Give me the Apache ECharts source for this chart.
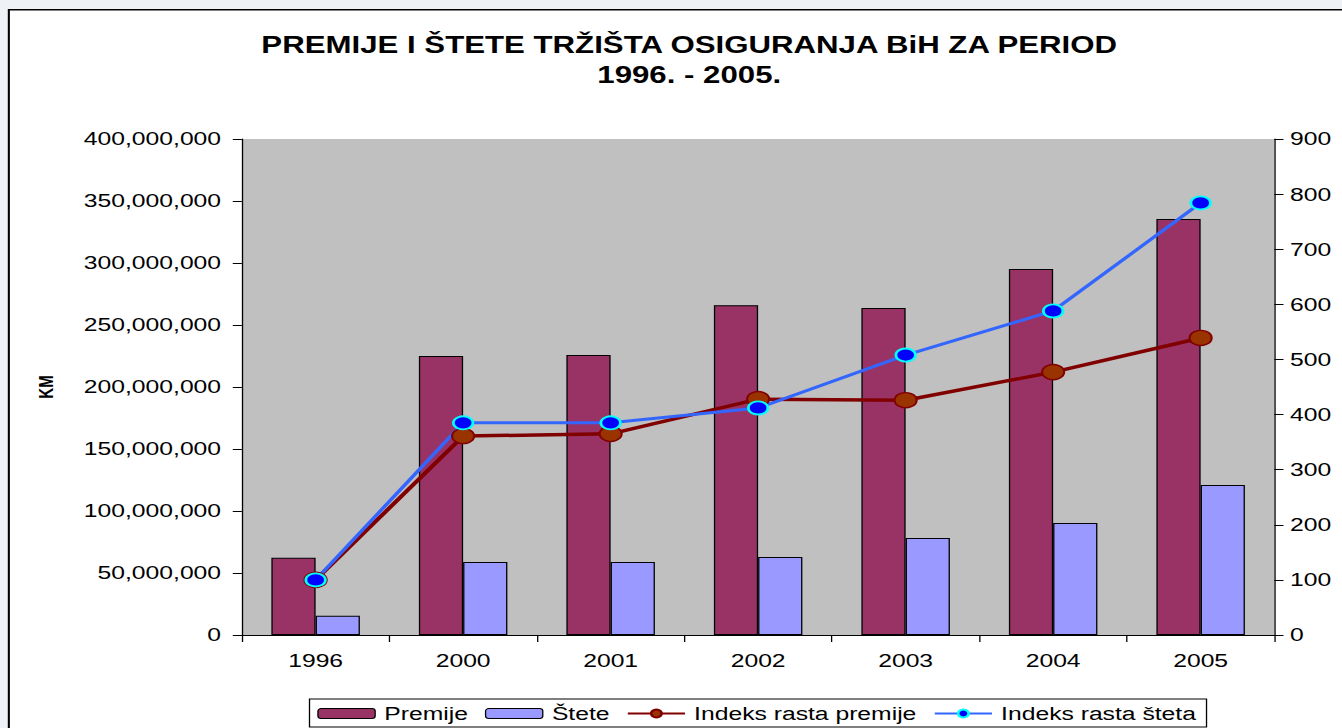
<!DOCTYPE html>
<html><head><meta charset="utf-8">
<script src="https://cdn.jsdelivr.net/npm/echarts@6/dist/echarts.min.js"></script>
<style>
html,body{margin:0;padding:0;background:#eef1f5;overflow:hidden;}
#c{width:1032px;height:728px;transform:scaleX(1.3004);transform-origin:0 0;}
</style>
</head><body><div id="c"></div>
<script>
const categories = ['1996','2000','2001','2002','2003','2004','2005'];
const premije = [62300000, 225000000, 225800000, 266000000, 263700000, 295200000, 335500000];
const stete = [15600000, 58900000, 58900000, 62900000, 78200000, 90300000, 121000000];
const indeksPremije = [100, 361, 365, 428, 426, 477, 539];
const indeksStete = [100, 385, 385, 412, 508, 588, 784];
const leftTicks = {min: 0, max: 400000000, interval: 50000000};
const rightTicks = {min: 0, max: 900, interval: 100};

const chart = echarts.init(document.getElementById('c'), null, {renderer: 'svg'});
const font = '"Liberation Sans", Arial, sans-serif';
chart.setOption({
  animation: false,
  backgroundColor: 'transparent',
  textStyle: {fontFamily: font},
  graphic: [{type: 'rect', left: 6, top: 9, shape: {width: 1040, height: 725}, style: {fill: '#fff', stroke: '#000', lineWidth: 1.6}, z: -10}],
  title: {
    text: 'PREMIJE I ŠTETE TRŽIŠTA OSIGURANJA BiH ZA PERIOD\n1996. - 2005.',
    left: 525, top: 25, textAlign: 'center',
    textStyle: {fontFamily: font, fontWeight: 'bold', fontSize: 24, color: '#000', lineHeight: 30}
  },
  legend: {
    bottom: 1, left: 238,
    itemGap: 13, itemWidth: 44, itemHeight: 10,
    padding: [5, 8, 4, 6],
    borderColor: '#000', borderWidth: 1, backgroundColor: '#fff',
    textStyle: {fontFamily: font, fontSize: 19, color: '#000', padding: [0, 0, 0, 2]},
    data: [
      {name: 'Premije', itemStyle: {borderColor: '#000', borderWidth: 1}},
      {name: 'Štete', itemStyle: {borderColor: '#000', borderWidth: 1}},
      {name: 'Indeks rasta premije'},
      {name: 'Indeks rasta šteta'}
    ]
  },
  grid: {left: 186, right: 52, top: 139, bottom: 93, show: true, backgroundColor: '#c0c0c0', borderWidth: 0},
  xAxis: {
    type: 'category', data: categories,
    axisLine: {lineStyle: {color: '#000', width: 1}},
    axisTick: {show: true, length: 7, lineStyle: {color: '#000'}},
    axisLabel: {fontFamily: font, fontSize: 19, color: '#000', margin: 16}
  },
  yAxis: [{
    type: 'value', min: leftTicks.min, max: leftTicks.max, interval: leftTicks.interval,
    name: 'KM', nameLocation: 'middle', nameGap: 143,
    nameTextStyle: {fontFamily: font, fontWeight: 'bold', fontSize: 15, color: '#000'},
    axisLine: {show: true, lineStyle: {color: '#000'}},
    axisTick: {show: true, length: 7, lineStyle: {color: '#000'}},
    splitLine: {show: false},
    axisLabel: {fontFamily: font, fontSize: 19, color: '#000', margin: 16,
      formatter: v => v.toLocaleString('en-US')}
  }, {
    type: 'value', min: rightTicks.min, max: rightTicks.max, interval: rightTicks.interval,
    axisLine: {show: true, lineStyle: {color: '#000'}},
    axisTick: {show: true, length: 7, lineStyle: {color: '#000'}},
    splitLine: {show: false},
    axisLabel: {fontFamily: font, fontSize: 19, color: '#000', margin: 12}
  }],
  series: [
    {name: 'Premije', type: 'bar', data: premije, barGap: '0%', barCategoryGap: '40%',
      itemStyle: {color: '#993366', borderColor: '#000', borderWidth: 1}},
    {name: 'Štete', type: 'bar', data: stete,
      itemStyle: {color: '#9999ff', borderColor: '#000', borderWidth: 1}},
    {name: 'Indeks rasta premije', type: 'line', yAxisIndex: 1, data: indeksPremije,
      symbol: 'circle', symbolSize: [17, 15],
      lineStyle: {color: '#800000', width: 3.5},
      itemStyle: {color: '#993300', borderColor: '#800000', borderWidth: 1.5}},
    {name: 'Indeks rasta šteta', type: 'line', yAxisIndex: 1, data: indeksStete,
      symbol: 'circle', symbolSize: [15, 13],
      lineStyle: {color: '#3366ff', width: 3},
      itemStyle: {color: '#0000ff', borderColor: '#00ffff', borderWidth: 2}}
  ]
});
</script></body></html>
